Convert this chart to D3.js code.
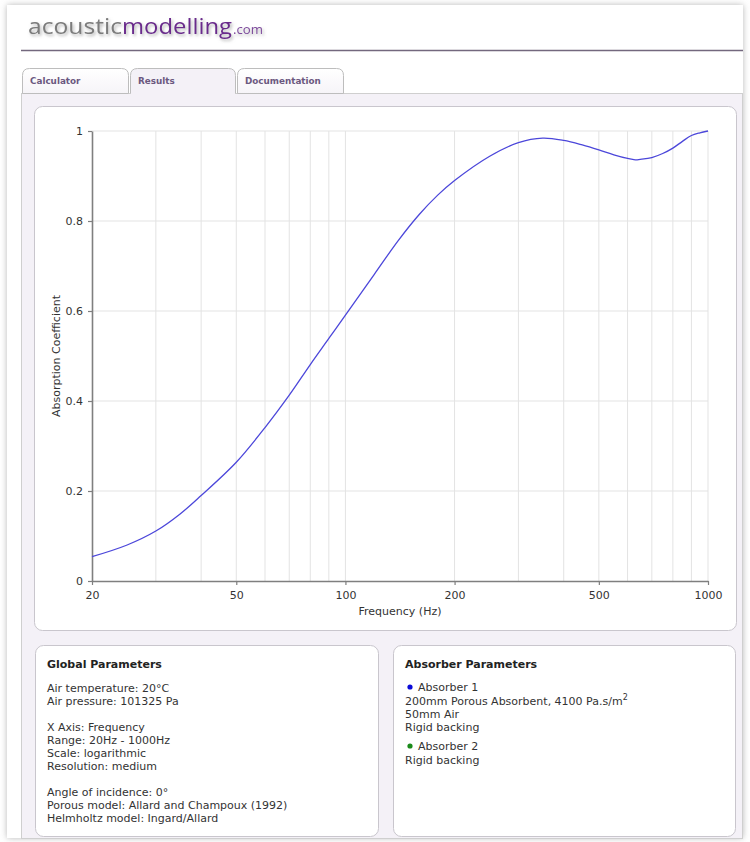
<!DOCTYPE html>
<html><head><meta charset="utf-8">
<script src="https://cdn.jsdelivr.net/npm/d3@7"></script>
<style>body{margin:0;background:#fff;} svg{display:block;}</style>
</head><body>
<svg id="c" width="750" height="842"></svg>
<script>
// ---- data ----
const freqs      = [20, 25, 30, 35, 40, 50, 60, 70, 80, 90, 100, 120, 140, 160, 180, 200, 250, 300, 350, 400, 450, 500, 550, 600, 630, 650, 700, 750, 800, 850, 900, 950, 1000];
const absorption = [0.054, 0.080, 0.111, 0.149, 0.190, 0.264, 0.341, 0.413, 0.481, 0.539, 0.591, 0.681, 0.757, 0.815, 0.858, 0.890, 0.944, 0.974, 0.984, 0.979, 0.969, 0.958, 0.947, 0.939, 0.936, 0.937, 0.941, 0.950, 0.962, 0.977, 0.990, 0.996, 1.0];
const xTickValues = [20, 50, 100, 200, 500, 1000];
const xGridValues = [30, 40, 50, 60, 70, 80, 90, 100, 200, 300, 400, 500, 600, 700, 800, 900, 1000];
const yTickValues = [0, 0.2, 0.4, 0.6, 0.8, 1];
const tabNames = ["Calculator", "Results", "Documentation"];
const globalLines = ["Air temperature: 20°C", "Air pressure: 101325 Pa", "", "X Axis: Frequency", "Range: 20Hz - 1000Hz", "Scale: logarithmic", "Resolution: medium", "", "Angle of incidence: 0°", "Porous model: Allard and Champoux (1992)", "Helmholtz model: Ingard/Allard"];
const absorberNames = ["Absorber 1", "Absorber 2"];
const absorberColors = ["#0a0ad8", "#1a8a1a"];
const absorberLines = [["200mm Porous Absorbent, 4100 Pa.s/m", "50mm Air", "Rigid backing"], ["Rigid backing"]];

const svg = d3.select("#c");
const FONT = "'DejaVu Sans', Verdana, sans-serif";
const defs = svg.append("defs");
const sh = defs.append("filter").attr("id","pageShadow").attr("x","-5%").attr("y","-5%").attr("width","110%").attr("height","110%");
sh.append("feDropShadow").attr("dx",0).attr("dy",0).attr("stdDeviation",3).attr("flood-color","#888").attr("flood-opacity",0.6);
const ls = defs.append("filter").attr("id","logoShadow").attr("x","-10%").attr("y","-30%").attr("width","120%").attr("height","160%");
ls.append("feDropShadow").attr("dx",1.5).attr("dy",2).attr("stdDeviation",1.5).attr("flood-color","#777").attr("flood-opacity",0.55);
const tg = defs.append("linearGradient").attr("id","tabGrad").attr("x1",0).attr("y1",0).attr("x2",0).attr("y2",1);
tg.append("stop").attr("offset","0%").attr("stop-color","#ffffff");
tg.append("stop").attr("offset","100%").attr("stop-color","#f6f4f8");

// page
svg.append("rect").attr("x",7).attr("y",5).attr("width",736).attr("height",833).attr("fill","#fff").attr("filter","url(#pageShadow)");

// logo
const logo = svg.append("g").attr("filter","url(#logoShadow)").style("font-family","'Open Sans', sans-serif");
logo.append("text").attr("x",28).attr("y",34).attr("font-size",22.5).attr("fill","#7b7b7b").attr("textLength",94).attr("lengthAdjust","spacingAndGlyphs").text("acoustic");
logo.append("text").attr("x",122).attr("y",34).attr("font-size",22.5).attr("fill","#6a2a8c").attr("textLength",110).attr("lengthAdjust","spacingAndGlyphs").text("modelling");
logo.append("text").attr("x",233).attr("y",34).attr("font-size",13).attr("fill","#7d4a9c").attr("textLength",30).attr("lengthAdjust","spacingAndGlyphs").text(".com");
svg.append("line").attr("x1",21).attr("x2",743).attr("y1",50.5).attr("y2",50.5).attr("stroke","#73687e").attr("stroke-width",1.6);

// content area
svg.append("rect").attr("x",21.5).attr("y",93.5).attr("width",721).attr("height",745).attr("fill","#f4f1f7").attr("stroke","#cfcfcf");

// tabs
const tabX = [22, 130, 237], tabW = [106, 105, 106];
tabNames.forEach((name, i) => {
  const x0 = tabX[i] + 0.5, x1 = tabX[i] + tabW[i] + 0.5, y0 = 68.5, y1 = 93.5, r = 7;
  const p = `M${x0},${y1} L${x0},${y0+r} Q${x0},${y0} ${x0+r},${y0} L${x1-r},${y0} Q${x1},${y0} ${x1},${y0+r} L${x1},${y1}`;
  svg.append("path").attr("d", p + (i===1 ? "" : " Z")).attr("fill", i===1 ? "#f4f1f7" : "url(#tabGrad)").attr("stroke","#bdbdbd");
  if (i===1) svg.append("line").attr("x1",x0+0.5).attr("x2",x1-0.5).attr("y1",y1).attr("y2",y1).attr("stroke","#f4f1f7").attr("stroke-width",1.5);
  svg.append("text").attr("x", tabX[i] + 8).attr("y", 83.5).attr("font-family",FONT).attr("font-weight","bold").attr("font-size",8.8).attr("fill","#6b5880").text(name);
});

// panels
function panel(x, y, w, h) {
  svg.append("rect").attr("x",x+0.5).attr("y",y+0.5).attr("width",w).attr("height",h).attr("rx",8).attr("fill","#fff").attr("stroke","#c9c6cd");
}
panel(34, 106, 702, 524);
panel(35, 645, 343, 191);
panel(393, 645, 342, 191);

// chart
const x = d3.scaleLog().domain([20, 1000]).range([92, 708]);
const y = d3.scaleLinear().domain([0, 1]).range([581, 131]);
const g = svg.append("g");
g.selectAll(".vg").data(xGridValues).join("line").attr("x1",d=>x(d)).attr("x2",d=>x(d)).attr("y1",131).attr("y2",581).attr("stroke","#e3e3e3").attr("stroke-width",1);
g.selectAll(".hg").data(yTickValues.filter(d=>d>0)).join("line").attr("x1",92).attr("x2",708).attr("y1",d=>y(d)).attr("y2",d=>y(d)).attr("stroke","#e3e3e3").attr("stroke-width",1);

const xAxis = d3.axisBottom(x).tickValues(xTickValues).tickFormat(d3.format("d")).tickSize(4).tickSizeOuter(0).tickPadding(6);
const yAxis = d3.axisLeft(y).tickValues(yTickValues).tickFormat(d3.format("")).tickSize(4).tickSizeOuter(0).tickPadding(5);
const gx = g.append("g").attr("transform","translate(0,581)").call(xAxis);
const gy = g.append("g").attr("transform","translate(92,0)").call(yAxis);
[gx, gy].forEach(a => {
  a.select(".domain").attr("stroke","#7f7f7f").attr("stroke-width",1.6);
  a.selectAll(".tick line").attr("stroke","#7f7f7f").attr("stroke-width",1.2);
  a.selectAll(".tick text").attr("font-family",FONT).attr("font-size",11).attr("fill","#333");
});

const line = d3.line().x(d=>x(d[0])).y(d=>y(d[1])).curve(d3.curveCatmullRom.alpha(0.5));
g.append("path").datum(freqs.map((f,i)=>[f, absorption[i]])).attr("d", line).attr("fill","none").attr("stroke","#4c47da").attr("stroke-width",1.3);

g.append("text").attr("x",400).attr("y",615).attr("text-anchor","middle").attr("font-family",FONT).attr("font-size",11).attr("fill","#333").text("Frequency (Hz)");
g.append("text").attr("transform","translate(60,356) rotate(-90)").attr("text-anchor","middle").attr("font-family",FONT).attr("font-size",11).attr("fill","#333").text("Absorption Coefficient");

// global parameters
svg.append("text").attr("x",47).attr("y",668).attr("font-family",FONT).attr("font-weight","bold").attr("font-size",11).attr("fill","#222").text("Global Parameters");
globalLines.forEach((t,i) => {
  if (t) svg.append("text").attr("x",47).attr("y",691.5 + i*13.05).attr("font-family",FONT).attr("font-size",11).attr("fill","#333").text(t);
});

// absorber parameters
svg.append("text").attr("x",405).attr("y",668).attr("font-family",FONT).attr("font-weight","bold").attr("font-size",11).attr("fill","#222").text("Absorber Parameters");
let yy = 691;
absorberNames.forEach((n,i) => {
  svg.append("circle").attr("cx",410).attr("cy",yy-4).attr("r",2.6).attr("fill",absorberColors[i]);
  svg.append("text").attr("x",418).attr("y",yy).attr("font-family",FONT).attr("font-size",11).attr("fill","#333").text(n);
  absorberLines[i].forEach((t,j) => {
    const tx = svg.append("text").attr("x",405).attr("y",yy + 14 + j*13).attr("font-family",FONT).attr("font-size",11).attr("fill","#333").text(t);
    if (t.endsWith("Pa.s/m")) tx.append("tspan").attr("dy",-5).attr("font-size",8).text("2");
  });
  yy += 14 + absorberLines[i].length*13 + 6;
});
</script>
</body></html>
